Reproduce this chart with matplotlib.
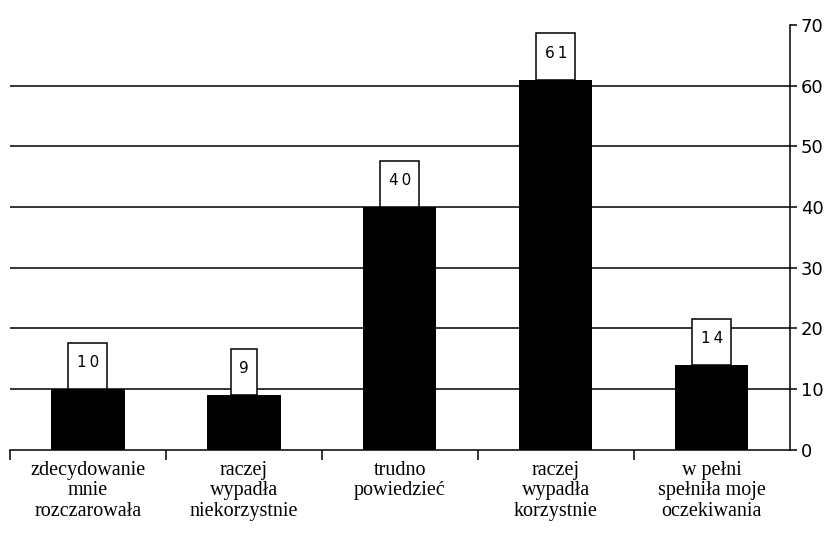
import numpy as np
import matplotlib.pyplot as plt
from matplotlib.patches import Rectangle
from matplotlib.ticker import FixedLocator

# Ocena: odpowiedzi i odsetki
categories = [
    "zdecydowanie\nmnie\nrozczarowała",
    "raczej\nwypadła\nniekorzystnie",
    "trudno\npowiedzieć",
    "raczej\nwypadła\nkorzystnie",
    "w pełni\nspełniła moje\noczekiwania",
]
values = [10, 9, 40, 61, 14]
value_labels = ["10", "9", "40", "61", "14"]
y_ticks = [0, 10, 20, 30, 40, 50, 60, 70]

fig = plt.figure(figsize=(8.33, 5.42), dpi=100)
ax = fig.add_axes([0.012, 0.170, 0.936, 0.784])

x = np.arange(len(values))
ax.bar(x, values, width=0.47, color="black", zorder=3)

# gridlines only up to 60, drawn across the whole plot
for t in y_ticks[1:-1]:
    ax.axhline(t, color="black", lw=1.1, zorder=1)

# value boxes sitting on top of each bar
box_h = 7.6
for xi, v, lab in zip(x, values, value_labels):
    w = 0.17 if len(lab) == 1 else 0.25
    ax.add_patch(Rectangle((xi - w / 2, v), w, box_h, facecolor="white",
                           edgecolor="black", lw=1.1, zorder=4))
    ax.text(xi, v + box_h * 0.57, "\u2009".join(lab), ha="center", va="center",
            fontsize=11, family="DejaVu Sans", zorder=5)

ax.set_xlim(-0.5, len(values) - 0.5)
ax.set_ylim(0, 70)

ax.spines["top"].set_visible(False)
ax.spines["left"].set_visible(False)
ax.spines["right"].set_linewidth(1.1)
ax.spines["bottom"].set_linewidth(1.1)

ax.yaxis.tick_right()
ax.set_yticks(y_ticks)
ax.tick_params(axis="y", direction="out", length=5, width=1.1, pad=3,
               labelsize=13)

# category ticks on boundaries, labels at bar centres
ax.xaxis.set_major_locator(FixedLocator(np.arange(-0.5, len(values) - 0.5, 1.0)))
ax.set_xticklabels([])
ax.tick_params(axis="x", direction="out", length=7, width=1.1)
for xi, c in zip(x, categories):
    ax.text(xi, -1.8, c, ha="center", va="top", fontsize=14.5,
            family="Liberation Serif", linespacing=1.1)

fig.savefig("out.png", dpi=100)
